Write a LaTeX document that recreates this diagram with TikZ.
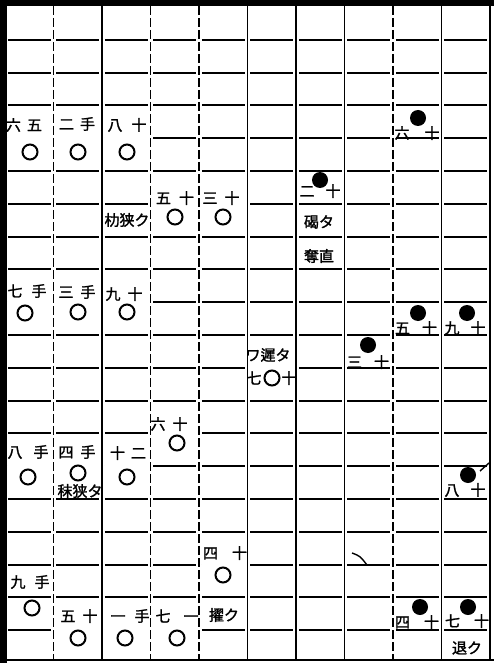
\documentclass[tikz,border=0pt]{standalone}
\usepackage{fontspec}
\newfontfamily\jpf[AutoFakeBold=1.5]{Noto Sans CJK JP}
\newcommand{\myerase}[2]{\fill[white] ({5+48.5*#1+2.5},{7+32.8*#2-2.6}) rectangle ({5+48.5*(#1+1)-2.5},{7+32.8*#2+2.6});}
\tikzset{
  hl/.style={line width=1.9pt, dash pattern=on 43pt off 5.5pt},
  vsolid/.style={line width=1.9pt},
  vdash/.style={line width=1.9pt, dash pattern=on 9pt off 3pt},
  ws/.style={circle, draw, line width=2pt, minimum size=15pt, inner sep=0pt, fill=white},
  bs/.style={circle, fill=black, minimum size=16pt, inner sep=0pt},
  lab/.style={font=\jpf\bfseries\fontsize{15}{15}\selectfont, inner sep=0pt},
  ann/.style={font=\jpf\bfseries\fontsize{15}{15}\selectfont, inner sep=0pt},
}
\begin{document}
\begin{tikzpicture}[x=1pt,y=-1pt]
\useasboundingbox (0,0) rectangle (494,663);
\fill[white] (0,0) rectangle (494,663);
% grid
\foreach \j in {1,...,19} \draw[hl] (7.75,{7+32.8*\j}) -- (490,{7+32.8*\j});
\foreach \k in {2,5,6,7,9,10} \draw[vsolid] ({5+48.5*\k},6) -- ({5+48.5*\k},660);
\foreach \k in {1,3,4,8} \draw[vdash] ({5+48.5*\k},6) -- ({5+48.5*\k},660);
% borders
\fill[black] (0,0) rectangle (494,6);
\fill[black] (0,0) rectangle (7,663);
\draw[line width=2.2pt] (0,660) -- (494,660);
% erase middle lines of stone blocks
\myerase{0}{4}\myerase{1}{4}\myerase{2}{4}
\myerase{3}{6}\myerase{4}{6}
\myerase{0}{9}\myerase{1}{9}\myerase{2}{9}
\myerase{3}{13}
\myerase{0}{14}\myerase{1}{14}\myerase{2}{14}
\myerase{4}{17}
\myerase{1}{19}\myerase{2}{19}\myerase{3}{19}
\myerase{5}{11}
% white stones with labels
\node[lab] (w1l) at (24,125) {六\hspace{6pt}五};   \node[ws] (w1) at (30,152) {};
\node[lab] (w2l) at (77,124) {二\hspace{6pt}手};   \node[ws] (w2) at (78,152) {};
\node[lab] (w3l) at (127,125) {八\hspace{9pt}十}; \node[ws] (w3) at (127,152) {};
\node[lab] (w4l) at (175,198) {五\hspace{8pt}十}; \node[ws] (w4) at (175,217) {};
\node[lab] (w5l) at (221,198) {三\hspace{7pt}十};  \node[ws] (w5) at (223,217) {};
\node[lab] (w6l) at (27,291) {七\hspace{9pt}手};  \node[ws] (w6) at (25,313) {};
\node[lab] (w7l) at (77,292) {三\hspace{7pt}手};   \node[ws] (w7) at (78,312) {};
\node[lab] (w8l) at (124,294) {九\hspace{7pt}十};  \node[ws] (w8) at (127,312) {};
\node[lab] (w9l) at (169,424) {六\hspace{7pt}十};  \node[ws] (w9) at (177,443) {};
\node[lab] (w10l) at (28,452) {八\hspace{11pt}手}; \node[ws] (w10) at (28,477) {};
\node[lab] (w11l) at (77,452) {四\hspace{7pt}手};  \node[ws] (w11) at (78,473) {};
\node[lab] (w12l) at (128,453) {十\hspace{6pt}二}; \node[ws] (w12) at (127,477) {};
\node[lab] (w13l) at (225,553) {四\hspace{14pt}十}; \node[ws] (w13) at (223,575) {};
\node[lab] (w14l) at (30,582) {九\hspace{9pt}手};  \node[ws] (w14) at (32,608) {};
\node[lab] (w15l) at (79,616) {五\hspace{7pt}十};  \node[ws] (w15) at (78,638) {};
\node[lab] (w16l) at (130,616) {一\hspace{9pt}手}; \node[ws] (w16) at (125,638) {};
\node[lab] (w17l) at (177,616) {七\hspace{13pt}一}; \node[ws] (w17) at (177,638) {};
\node[lab] (w18a) at (254,378) {七}; \node[ws] (w18) at (272,378) {}; \node[lab] (w18b) at (289,378) {十};
% black stones with labels
\node[bs] (b1) at (418,118) {}; \node[lab] (b1l) at (417,133) {六\hspace{15pt}十};
\node[bs] (b2) at (320,180) {}; \node[lab] (b2l) at (320,191) {二\hspace{11pt}十};
\node[bs] (b3) at (418,313) {}; \node[lab] (b3l) at (416,328) {五\hspace{12pt}十};
\node[bs] (b4) at (467,313) {}; \node[lab] (b4l) at (465,328) {九\hspace{11pt}十};
\node[bs] (b5) at (368,345) {}; \node[lab] (b5l) at (368,362) {三\hspace{12pt}十};
\node[bs] (b6) at (468,475) {}; \node[lab] (b6l) at (465,490) {八\hspace{11pt}十};
\node[bs] (b7) at (420,607) {}; \node[lab] (b7l) at (417,622) {四\hspace{14pt}十};
\node[bs] (b8) at (468,607) {}; \node[lab] (b8l) at (467,621) {七\hspace{14pt}十};
% annotations
\node[ann] (a1) at (127,220) {朸狭ク};
\node[ann] (a2) at (319,222) {碣タ};
\node[ann] (a3) at (319,256) {奪直};
\node[ann] (a4) at (268,355) {ワ遲タ};
\node[ann] (a5) at (80,491) {秣狭タ};
\node[ann] (a6) at (224,615) {擢ク};
\node[ann] (a7) at (467,648) {退ク};
% small marks
\draw[line width=1.4pt] (480,471) -- (489,463);
\draw[line width=1.4pt] (352,553) .. controls (360,556) .. (367,565);
\end{tikzpicture}
\end{document}
